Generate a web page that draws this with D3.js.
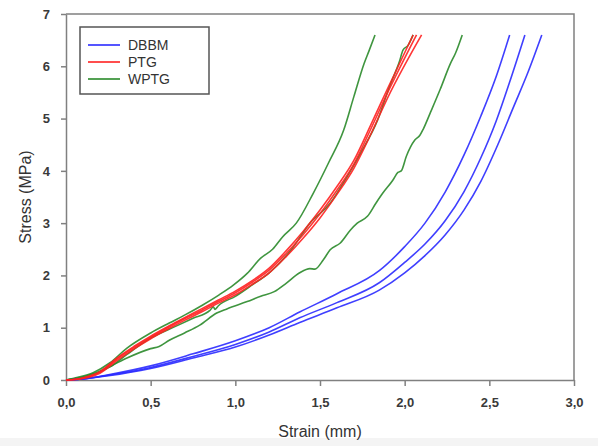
<!DOCTYPE html>
<html>
<head>
<meta charset="utf-8">
<script src="https://cdn.jsdelivr.net/npm/d3@7"></script>
<style>
  body { margin: 0; background: #fff; }
  svg { display: block; font-family: "Liberation Sans", Arial, sans-serif; }
  .axis path, .axis line { stroke: #808080; stroke-width: 1.5; }
  .axis text { fill: #3a3a3a; font-size: 13px; font-weight: bold; }
</style>
</head>
<body>
<div class="chart"></div>
<script>
// stress-strain curves, values: [strain mm, stress MPa]
var dbbm1 = [[0,0],[0.1,0.02],[0.25,0.1],[0.5,0.27],[0.75,0.5],[1.0,0.75],[1.2,1.0],[1.38,1.3],[1.6,1.65],[1.85,2.09],[2.0,2.55],[2.12,3.0],[2.24,3.6],[2.35,4.3],[2.45,5.05],[2.54,5.8],[2.62,6.6]];
var dbbm2 = [[0,0],[0.1,0.02],[0.25,0.09],[0.5,0.24],[0.75,0.45],[1.0,0.68],[1.2,0.92],[1.38,1.19],[1.6,1.48],[1.85,1.86],[2.0,2.25],[2.12,2.6],[2.24,3.05],[2.35,3.6],[2.45,4.25],[2.54,4.95],[2.62,5.7],[2.71,6.6]];
var dbbm3 = [[0,0],[0.1,0.02],[0.25,0.08],[0.5,0.22],[0.75,0.42],[1.0,0.63],[1.2,0.86],[1.38,1.1],[1.6,1.38],[1.85,1.72],[2.0,2.05],[2.12,2.38],[2.24,2.78],[2.35,3.25],[2.45,3.8],[2.55,4.5],[2.64,5.2],[2.73,5.9],[2.81,6.6]];

var ptg1 = [[0,0],[0.1,0.04],[0.2,0.16],[0.3,0.42],[0.4,0.64],[0.5,0.84],[0.6,1.02],[0.7,1.19],[0.8,1.36],[0.9,1.53],[1.0,1.7],[1.1,1.9],[1.2,2.14],[1.3,2.47],[1.4,2.84],[1.5,3.25],[1.6,3.7],[1.7,4.2],[1.8,4.88],[1.9,5.58],[2.05,6.6]];
var ptg2 = [[0,0],[0.1,0.04],[0.2,0.15],[0.3,0.4],[0.4,0.62],[0.5,0.82],[0.6,1.0],[0.7,1.17],[0.8,1.33],[0.9,1.5],[1.0,1.67],[1.1,1.87],[1.2,2.1],[1.3,2.42],[1.4,2.78],[1.5,3.18],[1.6,3.63],[1.7,4.13],[1.8,4.8],[1.9,5.5],[2.07,6.6]];
var ptg3 = [[0,0],[0.1,0.03],[0.2,0.13],[0.3,0.37],[0.4,0.59],[0.5,0.79],[0.6,0.97],[0.7,1.14],[0.8,1.3],[0.9,1.47],[1.0,1.63],[1.1,1.83],[1.2,2.05],[1.3,2.36],[1.4,2.71],[1.5,3.1],[1.6,3.55],[1.7,4.05],[1.8,4.7],[1.9,5.4],[2.1,6.6]];

var wptg1 = [[0,0],[0.07,0.05],[0.16,0.14],[0.26,0.33],[0.36,0.61],[0.5,0.9],[0.61,1.09],[0.7,1.24],[0.81,1.44],[0.9,1.62],[0.99,1.82],[1.07,2.04],[1.15,2.33],[1.22,2.5],[1.28,2.74],[1.36,3.0],[1.46,3.57],[1.55,4.15],[1.64,4.78],[1.7,5.42],[1.76,6.05],[1.79,6.3],[1.825,6.6]];
var wptg2 = [[0,0],[0.1,0.05],[0.18,0.13],[0.26,0.25],[0.36,0.49],[0.5,0.8],[0.65,1.03],[0.75,1.18],[0.85,1.33],[0.87,1.4],[0.88,1.35],[0.9,1.42],[1.0,1.6],[1.1,1.82],[1.2,2.05],[1.33,2.49],[1.44,3.0],[1.56,3.38],[1.66,3.89],[1.74,4.34],[1.84,4.97],[1.91,5.61],[1.97,6.1],[1.99,6.31],[2.02,6.4],[2.05,6.6]];
var wptg3 = [[0,0],[0.08,0.04],[0.16,0.12],[0.26,0.26],[0.36,0.42],[0.5,0.6],[0.55,0.64],[0.61,0.76],[0.7,0.9],[0.79,1.05],[0.89,1.28],[0.95,1.36],[1.07,1.5],[1.15,1.6],[1.23,1.69],[1.3,1.85],[1.38,2.05],[1.44,2.13],[1.47,2.12],[1.52,2.3],[1.56,2.49],[1.62,2.62],[1.68,2.87],[1.72,3.0],[1.78,3.13],[1.83,3.38],[1.87,3.57],[1.93,3.82],[1.96,3.97],[1.98,4.0],[2.01,4.28],[2.06,4.59],[2.09,4.68],[2.11,4.8],[2.15,5.1],[2.21,5.56],[2.27,6.05],[2.3,6.25],[2.34,6.6]];

var seriesNames = ['DBBM', 'PTG', 'WPTG'];
var seriesColors = ['#2a2aff', '#ff2020', '#2a8a2a'];
var curves = [
  {s: 'WPTG', d: wptg1}, {s: 'WPTG', d: wptg2}, {s: 'WPTG', d: wptg3},
  {s: 'DBBM', d: dbbm1}, {s: 'DBBM', d: dbbm2}, {s: 'DBBM', d: dbbm3},
  {s: 'PTG', d: ptg1}, {s: 'PTG', d: ptg2}, {s: 'PTG', d: ptg3}
];
var xTicks = [0, 0.5, 1.0, 1.5, 2.0, 2.5, 3.0];
var yTicks = [0, 1, 2, 3, 4, 5, 6, 7];

var svg_width = 598,
    svg_height = 446,
    svg = d3.select('.chart').append('svg').attr('width', svg_width).attr('height', svg_height),
    margin = {top: 14, right: 24, bottom: 66, left: 66},
    width = svg_width - margin.left - margin.right,
    height = svg_height - margin.top - margin.bottom;

// faint grey strip at the bottom of the picture
svg.append('rect').attr('x', 0).attr('y', 438).attr('width', svg_width).attr('height', 8).attr('fill', '#f4f4f4');

var g = svg.append('g').attr('transform', 'translate(' + margin.left + ',' + margin.top + ')');

var x = d3.scaleLinear().domain([0, 3]).range([0, width]);
var y = d3.scaleLinear().domain([0, 7]).range([height, 0]);
var color = d3.scaleOrdinal().domain(seriesNames).range(seriesColors);
var comma = function(d) { return d3.format('.1f')(d).replace('.', ','); };

// frame top and right
g.append('path').attr('d', 'M0,0H' + width + 'V' + height)
  .attr('fill', 'none').attr('stroke', '#808080').attr('stroke-width', 1.5);

g.append('g').attr('class', 'axis axis-x')
  .attr('transform', 'translate(0,' + height + ')')
  .call(d3.axisBottom(x).tickValues(xTicks).tickFormat(comma).tickSizeInner(6).tickSizeOuter(0).tickPadding(12));

g.append('g').attr('class', 'axis axis-y')
  .call(d3.axisLeft(y).tickValues(yTicks).tickFormat(d3.format('d')).tickSizeInner(5).tickSizeOuter(0).tickPadding(11));

var line = d3.line().x(function(d) { return x(d[0]); }).y(function(d) { return y(d[1]); }).curve(d3.curveMonotoneX);

g.selectAll('.curve').data(curves)
  .enter().append('path')
  .attr('class', 'curve')
  .attr('fill', 'none')
  .attr('stroke', function(d) { return color(d.s); })
  .attr('stroke-width', 1.6)
  .attr('stroke-opacity', 0.9)
  .attr('d', function(d) { return line(d.d); });

// axis titles
svg.append('text').attr('x', margin.left + width / 2).attr('y', 437)
  .attr('text-anchor', 'middle').attr('font-size', 16).attr('fill', '#333').text('Strain (mm)');
svg.append('text').attr('transform', 'translate(31,' + (margin.top + height / 2) + ') rotate(-90)')
  .attr('text-anchor', 'middle').attr('font-size', 16).attr('fill', '#333').text('Stress (MPa)');

// legend
var leg = svg.append('g').attr('transform', 'translate(80,27)');
leg.append('rect').attr('width', 129).attr('height', 67)
  .attr('fill', '#fff').attr('stroke', '#555').attr('stroke-width', 1.5);
var items = leg.selectAll('.item').data(seriesNames).enter().append('g')
  .attr('class', 'item')
  .attr('transform', function(d, i) { return 'translate(0,' + (18 + i * 17) + ')'; });
items.append('line').attr('x1', 8).attr('x2', 40)
  .attr('stroke', function(d) { return color(d); }).attr('stroke-width', 1.6);
items.append('text').attr('x', 48).attr('y', 5).attr('font-size', 14).attr('fill', '#333').text(function(d) { return d; });
</script>
</body>
</html>
